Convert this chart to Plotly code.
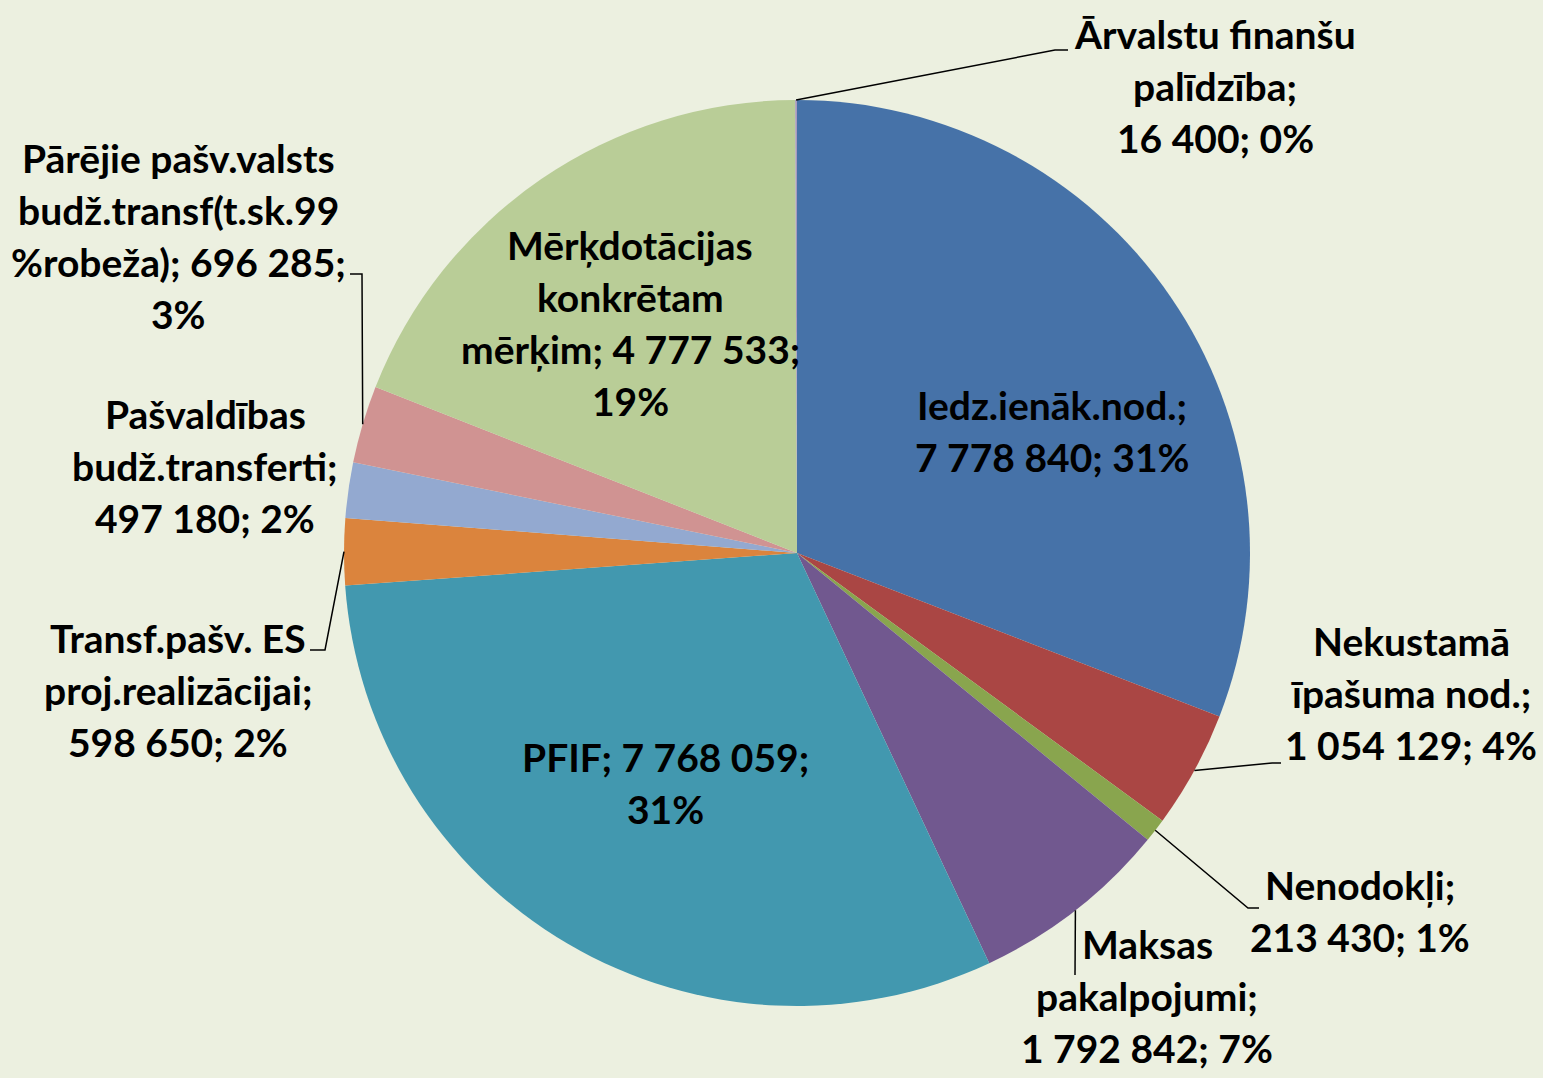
import math
import plotly.graph_objects as go

# ---------------- data ----------------
labels = [
    "Iedz.ienāk.nod.",
    "Nekustamā īpašuma nod.",
    "Nenodokļi",
    "Maksas pakalpojumi",
    "PFIF",
    "Transf.pašv. ES proj.realizācijai",
    "Pašvaldības budž.transferti",
    "Pārējie pašv.valsts budž.transf(t.sk.99 %robeža)",
    "Mērķdotācijas konkrētam mērķim",
    "Ārvalstu finanšu palīdzība",
]
values = [7778840, 1054129, 213430, 1792842, 7768059, 598650, 497180, 696285, 4777533, 16400]
colors = ["#4672A8", "#AA4644", "#89A54E", "#71588F", "#4298AF",
          "#DB843D", "#93A9D0", "#D09392", "#B9CD97", "#A99BBD"]

# ---------------- layout constants ----------------
W, H = 1543, 1078
CX, CY, R = 797, 553, 453
BG = "#ECF0E0"
FONT = dict(family="Lato, 'Open Sans', sans-serif", size=39, color="#000000")
LINE_H = 52

# words per line for each wrapped label "name; value; pct"
wrap = [[1, 4], [1, 2, 4], [1, 3], [1, 1, 4], [4, 1],
        [2, 1, 3], [1, 1, 3], [2, 1, 3, 1], [1, 1, 4, 1], [2, 1, 3]]
# label block centres (px)
label_pos = [(1052, 431), (1411, 693), (1360, 911), (1147, 996), (665, 783),
             (178, 690), (205, 466), (178, 236), (630, 323), (1215, 86)]
# leader line bends (px)
leaders = {
    1: [(1272, 763), (1281, 763)],
    2: [(1248, 908), (1259, 908)],
    3: [(1075, 975)],
    5: [(325, 650), (310, 650)],
    7: [(362, 274), (350, 274)],
    9: [(1055, 50), (1068, 50)],
}


def px(x):
    return x / W


def py(y):
    return 1 - y / H


total = sum(values)

fig = go.Figure(go.Pie(
    labels=labels, values=values, sort=False, direction="clockwise", rotation=0,
    marker=dict(colors=colors, line=dict(width=0)),
    textinfo="none", hoverinfo="label+value+percent", showlegend=False,
    domain=dict(x=[px(CX - R), px(CX + R)], y=[py(CY + R), py(CY - R)]),
))

annotations = []
shapes = []
cum = 0.0
for i, (name, v) in enumerate(zip(labels, values)):
    frac = v / total
    mid = (cum + frac / 2) * 2 * math.pi
    cum += frac
    vtxt = f"{v:,}".replace(",", " ")
    ptxt = f"{round(frac * 100)}%"
    words = f"{name}; {vtxt}; {ptxt}".split(" ")
    lines, k = [], 0
    for n in wrap[i]:
        lines.append(" ".join(words[k:k + n]))
        k += n
    x, y = label_pos[i]
    nl = len(lines)
    for j, ln in enumerate(lines):
        ly = y + (j - (nl - 1) / 2) * LINE_H
        annotations.append(dict(
            text="<b>" + ln + "</b>", x=px(x), y=py(ly),
            xref="paper", yref="paper", xanchor="center", yanchor="middle",
            showarrow=False, font=FONT, align="center",
        ))
    if i in leaders:
        sx = CX + R * math.sin(mid)
        sy = CY - R * math.cos(mid)
        pts = [(sx, sy)] + leaders[i]
        path = "M " + " L ".join(f"{px(a)},{py(b)}" for a, b in pts)
        shapes.append(dict(type="path", path=path, xref="paper", yref="paper",
                           line=dict(color="#000000", width=1.5)))

fig.update_layout(
    width=W, height=H, margin=dict(l=0, r=0, t=0, b=0),
    paper_bgcolor=BG, plot_bgcolor=BG,
    annotations=annotations, shapes=shapes,
)

fig.write_html(
    "out.html",
    config={"displayModeBar": False},
    post_script="document.body.style.margin='0';document.body.style.overflow='hidden';",
)
